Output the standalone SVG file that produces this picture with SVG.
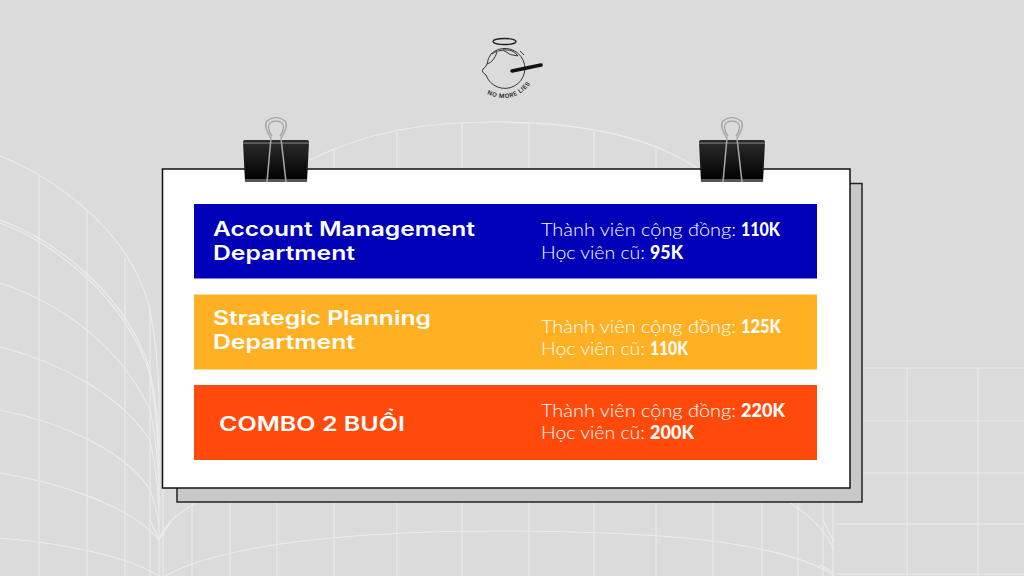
<svg xmlns="http://www.w3.org/2000/svg" xmlns:xlink="http://www.w3.org/1999/xlink" width="1024" height="576" viewBox="0 0 1024 576">
<style>
.g{fill:none;stroke:#ececec;stroke-width:1.100}
.h{font-family:"Inter","Liberation Sans",sans-serif;font-weight:600;font-size:20px;fill:#fff}
.t{font-family:"Lato","Liberation Sans",sans-serif;font-weight:300;font-size:18.500px;fill:#fff}
.b{font-family:"Lato","Liberation Sans",sans-serif;font-weight:900;font-size:18.500px;fill:#fff}
.w{fill:none;stroke:#a9a9a9;stroke-width:1.500}
</style>
<defs>
<linearGradient id="cg" x1="0" y1="0" x2="0" y2="1"><stop offset="0" stop-color="#2c2c2c"/><stop offset="1" stop-color="#000"/></linearGradient>
<g id="clip">
<path d="M1 2Q1 0 3 0H65Q67 0 67 2L65 42H3Z" fill="url(#cg)"/>
<rect x="1" y="2.500" width="66" height="1.200" fill="#777"/>
<rect x="3" y="39" width="62" height="3" fill="#555"/>
<path class="w" d="M25 42L29 -2Q21 -14 25 -19Q34 -26 43 -19Q47 -14 39 -2L44 42"/>
<path class="w" d="M30 -4Q24 -13 28 -17Q34 -21 40 -17Q44 -13 38 -4"/>
</g>
</defs>
<rect id="bg" width="1024" height="576" fill="#dbdbdb"/>
<g id="backdrop">
<path class="g" d="M0 156C45 174 130 225 150 310Q158 350 159 400M0 220C50 238 125 290 150 370Q158 410 159 450M0 223C50 241 125 295 150 375Q157 415 159 470M0 283C60 303 120 345 150 410Q157 440 159 490M0 347C60 362 120 395 150 440Q157 470 159 510M0 410C60 422 125 450 150 490Q156 505 159 525M0 473C60 483 130 505 159 540M0 538C60 543 125 555 159 576"/>
<path class="g" d="M39 175V576M87 211V576M125 258V576M150 310V576M159 400V576M163 488V576"/>
<path class="g" d="M150 520L159 540L172 520M159 540Q165 520 196 503M165 576C230 540 380 531 500 531C650 531 780 540 835 576M790 503Q825 525 833 550M823 520L834 542M820 565L834 573"/>
<path class="g" d="M192 502V576M230 502V576M277 502V576M334 502V576M397 502V576M462 502V576M529 502V576M594 502V576M656 502V576M713 502V576M762 502V576M798 502V576M823 502V576M833 502V576"/>
<path class="g" d="M310 160C370 130 430 122 495 122C560 122 640 130 697 168M334 150V169M397 132V169M462 122V169M529 122V169M594 131V169M656 149V169"/>
<path class="g" d="M863 368H1024M863 421H1024M863 473H1024M836 524H1024M836 574H1024M907 368V576M978 368V576"/>
</g>
<g id="logo">
<ellipse cx="504.500" cy="41.500" rx="11.500" ry="3" fill="none" stroke="#222" stroke-width="1.300"/>
<path d="M491 54A20 20 0 1 1 486 75Q481 72 483 69Q486 67 487 64Q488 58 491 54Z" fill="none" stroke="#222" stroke-width=".9"/>
<path d="M487 64Q494 62 497 52Q498 50 492 54M498 51Q512 47 518 56Q510 56 503 50M520 51L524 55" fill="none" stroke="#222" stroke-width=".9"/>
<path d="M512 71L541 65" stroke="#111" stroke-width="3.600" stroke-linecap="round"/>
<path id="arcp" d="M487 94Q518 108 537 74" fill="none"/>
<text font-family="Inter,'Liberation Sans',sans-serif" font-size="6" font-weight="600" fill="#222" letter-spacing=".55"><textPath xlink:href="#arcp" href="#arcp">NO MORE LIES</textPath></text>
</g>
<g id="card">
<rect x="177" y="183.500" width="685" height="318.500" fill="#c8c8c8" stroke="#222" stroke-width="1.500"/>
<rect x="162.500" y="169" width="687.500" height="319" fill="#fff" stroke="#111" stroke-width="1.500"/>
</g>
<g id="clip-left"><use href="#clip" xlink:href="#clip" x="242" y="140"/></g>
<g id="clip-right"><use href="#clip" xlink:href="#clip" x="698" y="140"/></g>
<g id="row-account">
<rect x="194" y="204" width="623" height="74.500" fill="#0000b8"/>
<text class="h" x="213" y="236" textLength="262" lengthAdjust="spacingAndGlyphs">Account Management</text>
<text class="h" x="213" y="259.500" textLength="142" lengthAdjust="spacingAndGlyphs">Department</text>
<text class="t" x="541" y="236" textLength="195" lengthAdjust="spacingAndGlyphs">Thành viên cộng đồng:</text><text class="b" x="741" y="236" textLength="39" lengthAdjust="spacingAndGlyphs">110K</text>
<text class="t" x="541" y="259" textLength="104" lengthAdjust="spacingAndGlyphs">Học viên cũ:</text><text class="b" x="650" y="259" textLength="33" lengthAdjust="spacingAndGlyphs">95K</text>
</g>
<g id="row-strategic">
<rect x="194" y="294.500" width="623" height="75" fill="#ffb023"/>
<text class="h" x="213" y="325" textLength="218" lengthAdjust="spacingAndGlyphs">Strategic Planning</text>
<text class="h" x="213" y="348.500" textLength="142" lengthAdjust="spacingAndGlyphs">Department</text>
<text class="t" x="541" y="333" textLength="195" lengthAdjust="spacingAndGlyphs">Thành viên cộng đồng:</text><text class="b" x="741" y="333" textLength="40" lengthAdjust="spacingAndGlyphs">125K</text>
<text class="t" x="541" y="355" textLength="104" lengthAdjust="spacingAndGlyphs">Học viên cũ:</text><text class="b" x="650" y="355" textLength="38" lengthAdjust="spacingAndGlyphs">110K</text>
</g>
<g id="row-combo">
<rect x="194" y="385" width="623" height="75" fill="#ff4a0c"/>
<text class="h" x="219" y="431" textLength="186" lengthAdjust="spacingAndGlyphs">COMBO 2 BUỔI</text>
<text class="t" x="541" y="417" textLength="195" lengthAdjust="spacingAndGlyphs">Thành viên cộng đồng:</text><text class="b" x="741" y="417" textLength="44" lengthAdjust="spacingAndGlyphs">220K</text>
<text class="t" x="541" y="439" textLength="104" lengthAdjust="spacingAndGlyphs">Học viên cũ:</text><text class="b" x="650" y="439" textLength="44" lengthAdjust="spacingAndGlyphs">200K</text>
</g>
</svg>
